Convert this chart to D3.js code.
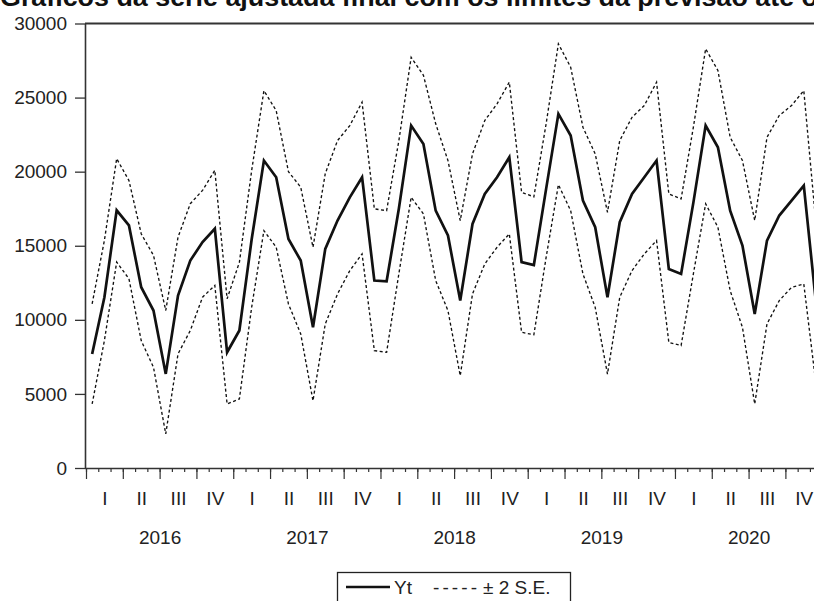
<!DOCTYPE html>
<html>
<head>
<meta charset="utf-8">
<script src="https://cdnjs.cloudflare.com/ajax/libs/d3/7.8.5/d3.min.js"></script>
<style>
  body { margin: 0; background: #fff; }
  svg { display: block; overflow: hidden; }
  text { font-family: "Liberation Sans", Arial, sans-serif; fill: #222; }
</style>
</head>
<body>
<div id="chart"></div>
<script>
// data, monthly Jan 2016 - Dec 2020
var years = ["2016", "2017", "2018", "2019", "2020"];
var quarters = ["I", "II", "III", "IV"];
var yTicks = [0, 5000, 10000, 15000, 20000, 25000, 30000];

var yt = [
  7700, 11530, 17390, 16370, 12200, 10630, 6350, 11640, 14000, 15250, 16150, 7810,
  9280, 15420, 20750, 19620, 15460, 14000, 9500, 14790, 16700, 18270, 19620, 12650,
  12600, 17510, 23110, 21870, 17370, 15690, 11300, 16470, 18500, 19620, 20970, 13900,
  13700, 18840, 23900, 22440, 18050, 16250, 11520, 16590, 18500, 19620, 20750, 13430,
  13100, 17910, 23110, 21650, 17370, 15010, 10400, 15350, 17040, 18050, 19060, 11100
];
var upper = [
  11080, 15360, 20880, 19400, 15810, 14350, 10630, 15580, 17840, 18740, 20090, 11420,
  13880, 20070, 25470, 24120, 20000, 18950, 14900, 19870, 22100, 23110, 24690, 17490,
  17370, 22100, 27720, 26500, 23230, 20750, 16700, 21200, 23450, 24580, 26040, 18610,
  18300, 23230, 28630, 27050, 23000, 21200, 17260, 22100, 23670, 24460, 26040, 18500,
  18160, 23000, 28290, 26830, 22320, 20750, 16700, 22320, 23790, 24460, 25470, 16400
];
var lower = [
  4320, 8600, 13900, 12770, 8600, 6800, 2300, 7700, 9280, 11530, 12320, 4320,
  4660, 10840, 16020, 14900, 11070, 9050, 4540, 9720, 11750, 13320, 14450, 7920,
  7810, 13120, 18270, 17150, 12650, 10620, 6230, 11750, 13770, 14900, 15800, 9160,
  8990, 14220, 19120, 17370, 13100, 10840, 6340, 11520, 13320, 14450, 15350, 8480,
  8260, 13100, 17830, 16250, 11970, 9490, 4320, 9720, 11300, 12190, 12420, 5600
];

var svgWidth = 814;
var svgHeight = 601;

var svg = d3.select("#chart")
  .append("svg")
  .attr("width", svgWidth)
  .attr("height", svgHeight);

// plot frame (picture is cropped on the right)
var plotLeft = 85, plotTop = 23.5, plotBottom = 468;
var monthW = 12.27;
var nMonths = yt.length;

var x = d3.scaleLinear()
  .domain([0, nMonths])
  .range([plotLeft + 1, plotLeft + 1 + nMonths * monthW]);

var y = d3.scaleLinear()
  .domain([0, 30000])
  .range([plotBottom, plotTop]);

// title, clipped at top
svg.append("text")
  .attr("x", 0)
  .attr("y", 6)
  .attr("font-size", 26)
  .attr("font-weight", "bold")
  .attr("textLength", 818)
  .attr("lengthAdjust", "spacingAndGlyphs")
  .style("fill", "#111")
  .text("Gráficos da série ajustada final com os limites da previsão até o");

// top border
svg.append("line")
  .attr("x1", plotLeft).attr("x2", svgWidth + 20)
  .attr("y1", y(30000)).attr("y2", y(30000))
  .attr("stroke", "#333")
  .attr("stroke-width", 2);

// y axis
var leftAxis = d3.axisLeft(y)
  .tickValues(yTicks)
  .tickSize(10)
  .tickSizeOuter(0)
  .tickPadding(8)
  .tickFormat(d3.format("d"));

var yAxis = svg.append("g")
  .attr("transform", `translate(${plotLeft}, 0)`)
  .call(leftAxis);

yAxis.selectAll("text").attr("font-size", 19).attr("font-family", "Liberation Sans, Arial").style("fill", "#222");
yAxis.selectAll("line").attr("stroke", "#333").attr("stroke-width", 1.3);
yAxis.select(".domain").attr("stroke", "#333").attr("stroke-width", 1.6);

// x axis, month ticks (minor) and quarter ticks (major)
var monthAxis = d3.axisBottom(x)
  .tickValues(d3.range(0, nMonths + 1))
  .tickSize(4)
  .tickSizeOuter(0)
  .tickFormat("");

var xAxis = svg.append("g")
  .attr("transform", `translate(0, ${plotBottom})`)
  .call(monthAxis);

xAxis.select(".domain").attr("d", `M${plotLeft},0.5H${svgWidth + 20}`)
  .attr("stroke", "#333").attr("stroke-width", 1.6);
xAxis.selectAll("line").attr("stroke", "#333").attr("stroke-width", 1.2);

var quarterAxis = d3.axisBottom(x)
  .tickValues(d3.range(0, nMonths + 1, 3))
  .tickSize(11)
  .tickSizeOuter(0)
  .tickFormat("");

var qAxis = svg.append("g")
  .attr("transform", `translate(0, ${plotBottom})`)
  .call(quarterAxis);
qAxis.select(".domain").remove();
qAxis.selectAll("line").attr("stroke", "#333").attr("stroke-width", 1.2);

// quarter labels
var qCenters = d3.range(0, nMonths, 3).map(d => d + 1.5);
var qLabelAxis = d3.axisBottom(x)
  .tickValues(qCenters)
  .tickSize(0)
  .tickPadding(0)
  .tickFormat((d, i) => quarters[i % 4]);

var qLabels = svg.append("g")
  .attr("transform", `translate(0, ${plotBottom + 23})`)
  .call(qLabelAxis);
qLabels.select(".domain").remove();
qLabels.selectAll("text").attr("font-size", 19).attr("font-family", "Liberation Sans, Arial").style("fill", "#222");

// year labels
var yearAxis = d3.axisBottom(x)
  .tickValues(years.map((d, i) => i * 12 + 6))
  .tickSize(0)
  .tickPadding(0)
  .tickFormat((d, i) => years[i]);

var yLabels = svg.append("g")
  .attr("transform", `translate(0, ${plotBottom + 62})`)
  .call(yearAxis);
yLabels.select(".domain").remove();
yLabels.selectAll("text").attr("font-size", 19).attr("font-family", "Liberation Sans, Arial").style("fill", "#222");

// lines
var lineGen = d3.line()
  .x((d, i) => x(i + 0.5))
  .y(d => y(d));

svg.append("path")
  .datum(upper)
  .attr("d", lineGen)
  .attr("fill", "none")
  .attr("stroke", "#111")
  .attr("stroke-width", 1.35)
  .attr("stroke-dasharray", "3,2.5");

svg.append("path")
  .datum(lower)
  .attr("d", lineGen)
  .attr("fill", "none")
  .attr("stroke", "#111")
  .attr("stroke-width", 1.35)
  .attr("stroke-dasharray", "3,2.5");

svg.append("path")
  .datum(yt)
  .attr("d", lineGen)
  .attr("fill", "none")
  .attr("stroke", "#111")
  .attr("stroke-width", 2.7)
  .attr("stroke-linejoin", "miter");

// legend
var legend = svg.append("g");
legend.append("rect")
  .attr("x", 337.5).attr("y", 572.5)
  .attr("width", 233).attr("height", 40)
  .attr("fill", "#fff")
  .attr("stroke", "#222")
  .attr("stroke-width", 1.3);
legend.append("line")
  .attr("x1", 346).attr("x2", 390)
  .attr("y1", 587).attr("y2", 587)
  .attr("stroke", "#111")
  .attr("stroke-width", 2.7);
legend.append("text")
  .attr("x", 394).attr("y", 594)
  .attr("font-size", 19)
  .text("Yt");
legend.append("text")
  .attr("x", 433).attr("y", 594)
  .attr("font-size", 19)
  .attr("textLength", 44)
  .attr("lengthAdjust", "spacing")
  .text("-----");
legend.append("text")
  .attr("x", 483).attr("y", 594)
  .attr("font-size", 19)
  .text("± 2 S.E.");
</script>
</body>
</html>
